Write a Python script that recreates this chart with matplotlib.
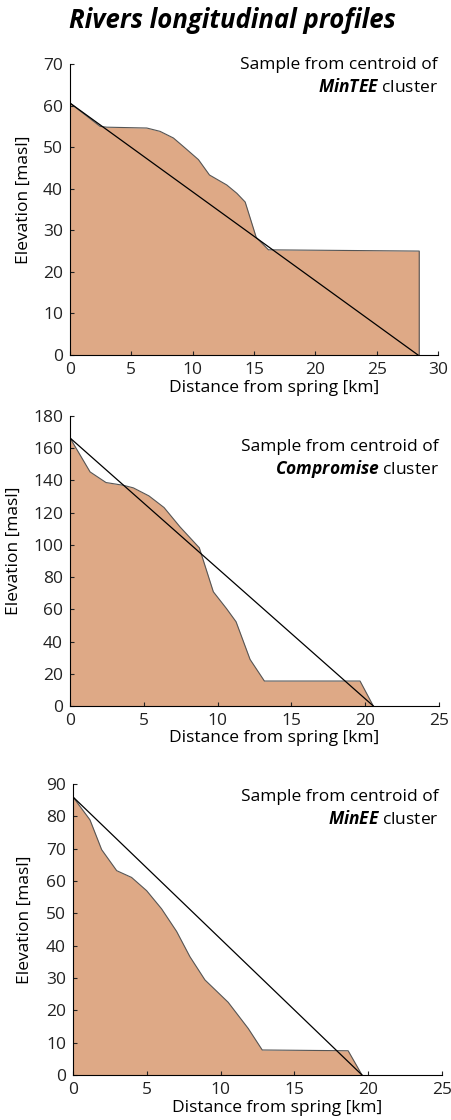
import numpy as np
import matplotlib
matplotlib.use("Agg")
import matplotlib.pyplot as plt

plt.rcParams['font.family'] = ['Open Sans', 'DejaVu Sans']
plt.rcParams['mathtext.fontset'] = 'custom'
plt.rcParams['mathtext.bfit'] = 'Open Sans:italic:bold'
plt.rcParams['mathtext.rm'] = 'Open Sans'

# profile data: distance [km], elevation [masl]
mintee_x = [0, 2.45, 3.0, 6.26, 7.34, 8.43, 9.38, 10.47, 11.37, 12.78, 13.6, 14.28, 15.18, 16.18, 28.47, 28.47]
mintee_y = [60.6, 55.0, 54.8, 54.6, 53.8, 52.2, 49.8, 47.0, 43.3, 40.9, 38.9, 36.8, 28.3, 25.3, 25.0, 0]

comp_x = [0, 1.36, 2.44, 3.61, 4.29, 5.35, 6.37, 7.45, 8.76, 9.71, 10.6, 11.25, 12.2, 13.17, 19.65, 20.55]
comp_y = [166.4, 145.3, 138.7, 137.0, 135.4, 130.4, 123.2, 111.2, 98.2, 70.9, 60.5, 52.3, 28.9, 15.5, 15.5, 0]

minee_x = [0, 1.15, 1.94, 2.96, 3.97, 4.99, 6.0, 7.02, 7.92, 8.94, 10.51, 11.87, 12.82, 18.64, 19.58]
minee_y = [86.0, 78.9, 69.7, 63.2, 61.1, 57.0, 51.4, 44.4, 36.6, 29.4, 22.5, 14.4, 7.74, 7.5, 0]

# straight reference line: spring -> mouth
mintee_line = ([0, 28.37], [60.6, 0])
comp_line = ([0, 20.55], [166.4, 0])
minee_line = ([0, 19.58], [86.0, 0])

fill_color = '#dea986'

W, H = 451, 1120
fig = plt.figure(figsize=(W / 100, H / 100), dpi=100)

fig.text(0.515, 1 - 21 / H, "Rivers longitudinal profiles", ha='center', va='center',
         fontsize=18.5, fontweight='bold', fontstyle='italic')

panels = [
    # x, y, line, name, box(px: left, right, top, bottom), xmax, ymax, ystep, ylabel x, xlabel (x, y), text ys, text x
    (mintee_x, mintee_y, mintee_line, "MinTEE", (70, 438, 64, 355), 30, 70, 10, -0.103, (0.554, -0.085), (0.997, 0.92), 1.0),
    (comp_x, comp_y, comp_line, "Compromise", (70, 439, 416, 706), 25, 180, 20, -0.13, (0.553, -0.082), (0.893, 0.817), 1.0),
    (minee_x, minee_y, minee_line, "MinEE", (73, 442, 784, 1075), 25, 90, 10, -0.108, (0.553, -0.085), (0.955, 0.88), 0.99),
]

for x, y, line, name, box, xmax, ymax, ystep, ylx, xl, ty, tx in panels:
    l, r, t, b = box
    ax = fig.add_axes([l / W, 1 - b / H, (r - l) / W, (b - t) / H])
    ax.fill_between(x, y, 0, color=fill_color, linewidth=0)
    ax.plot(x, y, color='#555555', linewidth=0.8)
    ax.plot(line[0], line[1], color='black', linewidth=0.9)
    ax.set_xlim(0, xmax)
    ax.set_ylim(0, ymax)
    ax.set_xticks(np.arange(0, xmax + 1, 5))
    ax.set_yticks(np.arange(0, ymax + 1, ystep))
    ax.spines['top'].set_visible(False)
    ax.spines['right'].set_visible(False)
    ax.tick_params(direction='in', length=3, labelsize=12.5, pad=5, colors='#222222')
    ax.set_xlabel("Distance from spring [km]", fontsize=12.5)
    ax.set_ylabel("Elevation [masl]", fontsize=12.5)
    ax.xaxis.set_label_coords(xl[0], xl[1])
    ax.yaxis.set_label_coords(ylx, 0.535)
    ax.text(tx, ty[0], "Sample from centroid of", transform=ax.transAxes,
            ha='right', va='center', fontsize=12.5)
    ax.text(tx, ty[1], r"$\mathbfit{" + name + r"}$ cluster", transform=ax.transAxes,
            ha='right', va='center', fontsize=12.5)

fig.savefig("out.png", dpi=100)
